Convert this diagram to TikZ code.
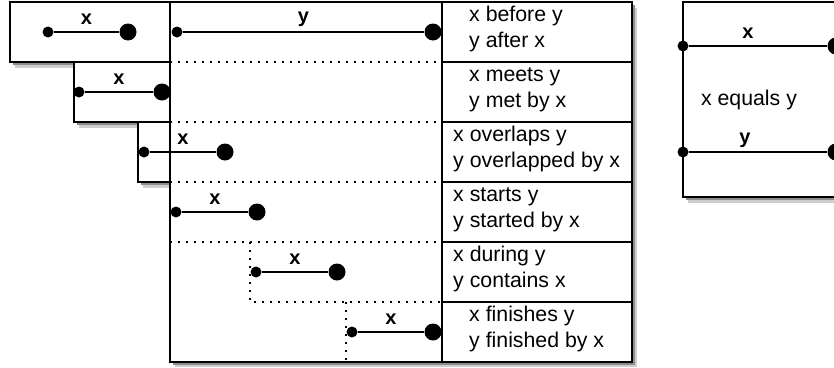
\documentclass[tikz,border=0pt]{standalone}
\usepackage{fontspec}
\setmainfont{Liberation Sans}
\definecolor{shadowlight}{RGB}{205,205,205}
\definecolor{shadowdark}{RGB}{140,140,140}
\begin{document}
\begin{tikzpicture}[x=1pt,y=-1pt,
  plainbox/.style={draw, line width=1.9pt, fill=white},
  shadeA/.style={fill=shadowlight},
  shadeB/.style={fill=shadowdark},
  sepline/.style={line width=1.9pt},
  dotline/.style={line width=1.6pt, dash pattern=on 1.6pt off 6.4pt},
  seg/.style={line width=1.4pt},
  sdot/.style={circle, fill=black, inner sep=0pt, minimum size=11pt},
  bdot/.style={circle, fill=black, inner sep=0pt, minimum size=17pt},
  lbl/.style={font=\fontsize{20}{22}\selectfont\bfseries, inner sep=0pt},
  txt/.style={font=\fontsize{21.3}{24}\selectfont, inner sep=0pt, anchor=base west}]
\path[use as bounding box] (0,0) rectangle (834,367);
% left boxes with shadows
\path[shadeA] (15,8) rectangle (175,68);
\path[shadeB] (13,5) rectangle (173,65);
\path[plainbox] (10,2) rectangle (170,62);
\path[shadeA] (79,68) rectangle (175,128);
\path[shadeB] (77,65) rectangle (173,125);
\path[plainbox] (74,62) rectangle (170,122);
\path[shadeA] (143,128) rectangle (175,188);
\path[shadeB] (141,125) rectangle (173,185);
\path[plainbox] (138,122) rectangle (170,182);
% main box
\path[shadeA] (175,8) rectangle (637,367);
\path[shadeB] (173,5) rectangle (635,365);
\path[plainbox] (170,2) rectangle (632,362);
\draw[sepline] (442,2) -- (442,362);
\foreach \yy in {62,122,182,242,302} \draw[sepline] (442,\yy) -- (632,\yy);
% dotted separators
\foreach \yy in {62,122,182,242} \draw[dotline] (170,\yy) -- (442,\yy);
\draw[dotline] (250,242) -- (250,302) -- (442,302);
\draw[dotline] (346,302) -- (346,362);
% right box (extends past the right edge)
\path[shadeA] (688,8) rectangle (834,203);
\path[shadeB] (686,5) rectangle (834,200);
\path[fill=white] (683,2) rectangle (834,197);
\draw[sepline] (834,2) -- (683,2) -- (683,197) -- (834,197);
% row 1
\node[sdot] (x1a) at (48,32) {};
\node[bdot] (x1b) at (128,32) {};
\draw[seg] (x1a) -- node[lbl, midway, yshift=13pt] (lx1) {x} (x1b);
\node[sdot] (y1a) at (177,32) {};
\node[bdot] (y1b) at (433,32) {};
\draw[seg] (y1a) -- node[lbl, midway, yshift=13pt] (ly1) {y} (y1b);
% row 2
\node[sdot] (x2a) at (79,92) {};
\node[bdot] (x2b) at (162,92) {};
\draw[seg] (x2a) -- node[lbl, midway, yshift=13pt] (lx2) {x} (x2b);
% row 3
\node[sdot] (x3a) at (144,152) {};
\node[bdot] (x3b) at (225,152) {};
\draw[seg] (x3a) -- node[lbl, midway, yshift=13pt] (lx3) {x} (x3b);
% row 4
\node[sdot] (x4a) at (176,212) {};
\node[bdot] (x4b) at (257,212) {};
\draw[seg] (x4a) -- node[lbl, midway, yshift=13pt] (lx4) {x} (x4b);
% row 5
\node[sdot] (x5a) at (256,272) {};
\node[bdot] (x5b) at (337,272) {};
\draw[seg] (x5a) -- node[lbl, midway, yshift=13pt] (lx5) {x} (x5b);
% row 6
\node[sdot] (x6a) at (352,332) {};
\node[bdot] (x6b) at (433,332) {};
\draw[seg] (x6a) -- node[lbl, midway, yshift=13pt] (lx6) {x} (x6b);
% texts
\node[txt] (t1a) at (469,21) {x before y};
\node[txt] (t1b) at (469,47) {y after x};
\node[txt] (t2a) at (469,81) {x meets y};
\node[txt] (t2b) at (469,107) {y met by x};
\node[txt] (t3a) at (453,141) {x overlaps y};
\node[txt] (t3b) at (453,167) {y overlapped by x};
\node[txt] (t4a) at (453,201) {x starts y};
\node[txt] (t4b) at (453,227) {y started by x};
\node[txt] (t5a) at (453,261) {x during y};
\node[txt] (t5b) at (453,287) {y contains x};
\node[txt] (t6a) at (469,321) {x finishes y};
\node[txt] (t6b) at (469,347) {y finished by x};
% right box content
\node[sdot] (ea) at (683,46) {};
\node[bdot] (eb) at (836,46) {};
\draw[seg] (ea) -- (eb.west);
\node[lbl] (lex) at (748,33) {x};
\node[sdot] (fa) at (683,152) {};
\node[bdot] (fb) at (836,152) {};
\draw[seg] (fa) -- (fb.west);
\node[lbl] (ley) at (745,140) {y};
\node[font=\fontsize{21.3}{24}\selectfont, inner sep=0pt] (eq) at (749,100) {x equals y};
\end{tikzpicture}
\end{document}
